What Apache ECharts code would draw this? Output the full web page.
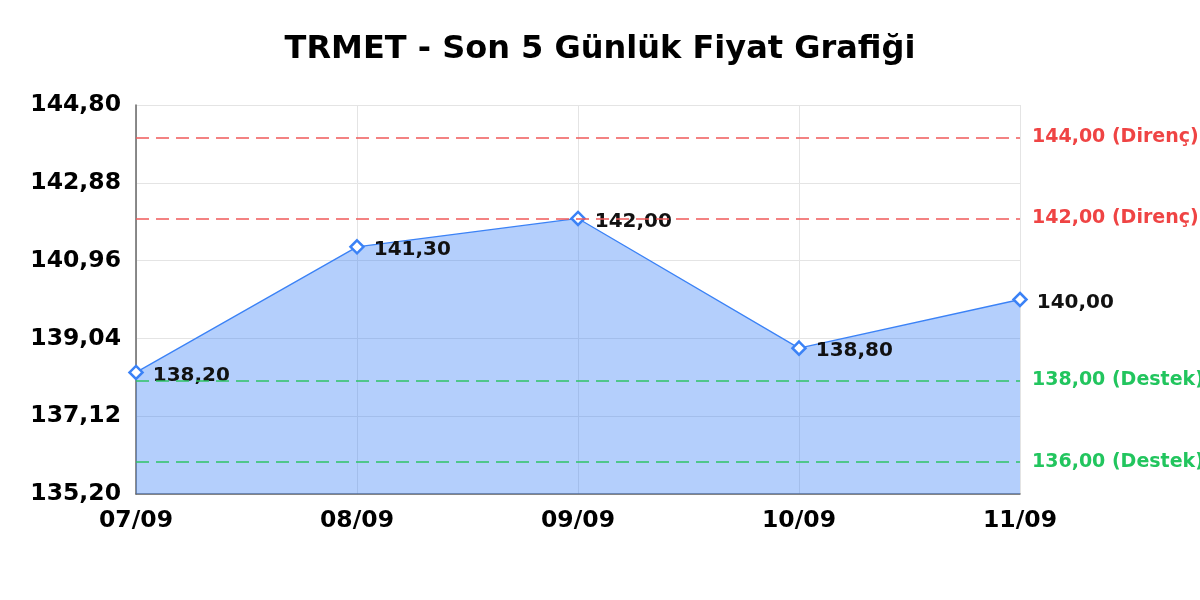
<!DOCTYPE html>
<html>
<head>
<meta charset="utf-8">
<script src="https://cdn.jsdelivr.net/npm/echarts@6/dist/echarts.min.js"></script>
<style>
html,body{margin:0;padding:0;background:#fff;}
#chart{width:1200px;height:600px;}
</style>
</head>
<body>
<div id="chart"></div>
<script>
const categories = ['07/09', '08/09', '09/09', '10/09', '11/09'];
const prices = [138.20, 141.30, 142.00, 138.80, 140.00];
const resistanceLevels = [144.00, 142.00];
const supportLevels = [138.00, 136.00];
const yMin = 135.20, yMax = 144.80, yInterval = 1.92;

const fmt = v => Number(v).toFixed(2).replace('.', ',');
const FONT = 'DejaVu Sans';

const markData = [];
resistanceLevels.forEach(v => markData.push({
  yAxis: v,
  lineStyle: { color: '#f05a5a' },
  label: { color: '#ef4444', formatter: fmt(v) + ' (Direnç)' }
}));
supportLevels.forEach(v => markData.push({
  yAxis: v,
  lineStyle: { color: '#2ec466' },
  label: { color: '#22c55e', formatter: fmt(v) + ' (Destek)' }
}));

const chart = echarts.init(document.getElementById('chart'));
chart.setOption({
  backgroundColor: '#ffffff',
  animation: false,
  title: {
    text: 'TRMET - Son 5 Günlük Fiyat Grafiği',
    left: 'center',
    top: 29,
    textStyle: { fontFamily: FONT, fontWeight: 'bold', fontSize: 32, color: '#000' }
  },
  grid: { left: 136, right: 180, top: 105, bottom: 106, containLabel: false },
  xAxis: {
    type: 'category',
    data: categories,
    boundaryGap: false,
    axisLine: { show: true, lineStyle: { color: '#666', width: 1.5 } },
    axisTick: { show: false },
    splitLine: { show: true, lineStyle: { color: '#e4e4e4', width: 1 } },
    axisLabel: { fontFamily: FONT, fontWeight: 'bold', fontSize: 23.5, color: '#000', margin: 15 }
  },
  yAxis: {
    type: 'value',
    min: yMin,
    max: yMax,
    interval: yInterval,
    axisLine: { show: true, lineStyle: { color: '#666', width: 1.5 } },
    axisTick: { show: false },
    splitLine: { show: true, lineStyle: { color: '#e4e4e4', width: 1 } },
    axisLabel: { fontFamily: FONT, fontWeight: 'bold', fontSize: 23.5, color: '#000', margin: 15, formatter: v => fmt(v) }
  },
  series: [{
    type: 'line',
    data: prices,
    symbol: 'diamond',
    symbolSize: 13,
    lineStyle: { color: '#3b82f6', width: 1.3 },
    itemStyle: { color: '#ffffff', borderColor: '#3b82f6', borderWidth: 2.5 },
    areaStyle: { color: 'rgba(59,130,246,0.38)', opacity: 1, origin: 'start' },
    label: {
      show: true,
      position: 'right',
      distance: 9,
      offset: [0, 3],
      fontFamily: FONT,
      fontWeight: 'bold',
      fontSize: 20,
      color: '#111',
      formatter: p => fmt(p.value)
    },
    markLine: {
      silent: true,
      symbol: 'none',
      animation: false,
      lineStyle: { type: [13, 7], width: 1.6 },
      label: { show: true, position: 'end', distance: 12, fontFamily: FONT, fontWeight: 'bold', fontSize: 19 },
      data: markData
    },
    z: 2
  }]
});
</script>
</body>
</html>
